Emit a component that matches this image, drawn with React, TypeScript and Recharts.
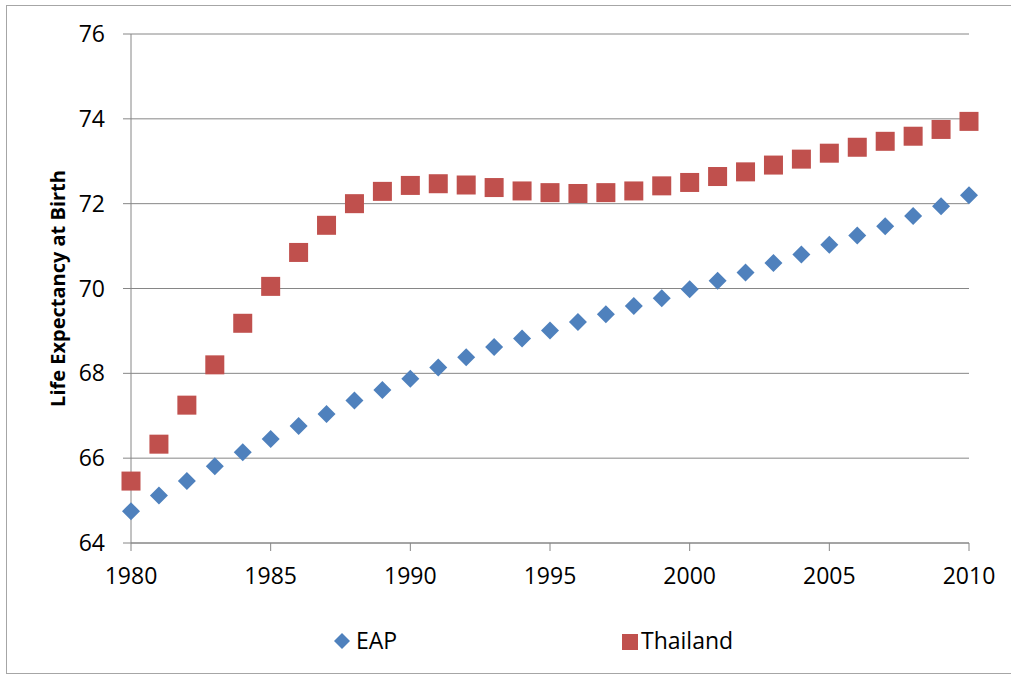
import React from 'react';
import { ScatterChart, Scatter, XAxis, YAxis, CartesianGrid, Legend } from 'recharts';

const years = [1980, 1981, 1982, 1983, 1984, 1985, 1986, 1987, 1988, 1989, 1990, 1991, 1992, 1993, 1994, 1995, 1996, 1997, 1998, 1999, 2000, 2001, 2002, 2003, 2004, 2005, 2006, 2007, 2008, 2009, 2010];
const eapValues = [64.75, 65.12, 65.46, 65.81, 66.14, 66.45, 66.76, 67.04, 67.36, 67.61, 67.87, 68.14, 68.38, 68.62, 68.82, 69.01, 69.21, 69.39, 69.59, 69.77, 69.98, 70.18, 70.38, 70.6, 70.8, 71.03, 71.25, 71.47, 71.71, 71.94, 72.2];
const thailandValues = [65.46, 66.33, 67.25, 68.2, 69.18, 70.05, 70.85, 71.49, 72.0, 72.29, 72.43, 72.47, 72.44, 72.38, 72.3, 72.26, 72.24, 72.26, 72.3, 72.42, 72.5, 72.64, 72.75, 72.91, 73.05, 73.19, 73.33, 73.47, 73.59, 73.75, 73.94];
const xTicks = [1980, 1985, 1990, 1995, 2000, 2005, 2010];
const yTicks = [64, 66, 68, 70, 72, 74, 76];
const seriesNames = ['EAP', 'Thailand'];
const yAxisTitle = 'Life Expectancy at Birth';

const BLUE = '#4F81BD';
const RED = '#C0504D';
const GRID = '#868686';
const FONT = '"Open Sans", sans-serif';

const eapData = years.map((year, i) => ({ year, value: eapValues[i] }));
const thailandData = years.map((year, i) => ({ year, value: thailandValues[i] }));

const Diamond = (props: any) => {
  const { cx, cy } = props;
  const r = 9;
  return <path d={`M${cx},${cy - r}L${cx + r},${cy}L${cx},${cy + r}L${cx - r},${cy}Z`} fill={BLUE} />;
};

const Square = (props: any) => {
  const { cx, cy } = props;
  const s = 19;
  return <rect x={cx - s / 2} y={cy - s / 2} width={s} height={s} fill={RED} />;
};

const LegendContent = () => (
  <div style={{ position: 'relative', width: 420, height: 30, fontFamily: FONT, fontSize: 23, lineHeight: '30px', color: '#000' }}>
    <svg width={18} height={18} style={{ position: 'absolute', left: 0, top: 7 }}>
      <path d="M9,1L17,9L9,17L1,9Z" fill={BLUE} />
    </svg>
    <span style={{ position: 'absolute', left: 23, top: 0 }}>{seriesNames[0]}</span>
    <svg width={16} height={16} style={{ position: 'absolute', left: 289, top: 9 }}>
      <rect x={0} y={0} width={16} height={16} fill={RED} />
    </svg>
    <span style={{ position: 'absolute', left: 308, top: 0 }}>{seriesNames[1]}</span>
  </div>
);

const YTitle = (props: any) => {
  const vb = props.viewBox || { x: 0, y: 34, width: 131, height: 509 };
  const cx = vb.x + 57;
  const cy = vb.y + vb.height / 2;
  return (
    <text
      x={cx}
      y={cy}
      transform={`rotate(-90 ${cx} ${cy})`}
      textAnchor="middle"
      dominantBaseline="central"
      fontFamily={FONT}
      fontWeight="bold"
      fontSize={20}
      fill="#000"
    >
      {yAxisTitle}
    </text>
  );
};

export default function App() {
  const tickStyle = { fill: '#000', fontSize: 23, fontFamily: FONT };
  return (
    <div style={{ position: 'absolute', left: 0, top: 0, width: 1011, height: 679, background: '#fff', overflow: 'hidden' }}>
      <div style={{ position: 'absolute', left: 6, top: 5, width: 1020, height: 669, border: '1px solid #a6a6a6', boxSizing: 'border-box' }} />
      <ScatterChart width={1011} height={679} margin={{ top: 34, right: 42, left: 0, bottom: 86 }} style={{ position: 'absolute', left: 0, top: 0 }}>
        <CartesianGrid vertical={false} stroke={GRID} strokeWidth={1} />
        <XAxis
          type="number"
          dataKey="year"
          domain={[1980, 2010]}
          ticks={xTicks}
          interval={0}
          height={50}
          tickSize={8}
          tickMargin={17}
          axisLine={{ stroke: GRID }}
          tickLine={{ stroke: GRID }}
          tick={tickStyle}
          allowDecimals={false}
        />
        <YAxis
          type="number"
          dataKey="value"
          domain={[64, 76]}
          ticks={yTicks}
          interval={0}
          width={131}
          tickSize={8}
          tickMargin={18}
          axisLine={{ stroke: GRID }}
          tickLine={{ stroke: GRID }}
          tick={tickStyle}
          label={{ content: (p: any) => <YTitle {...p} /> }}
        />
        <Legend
          layout="horizontal"
          verticalAlign="middle"
          align="center"
          content={() => <LegendContent />}
          wrapperStyle={{ position: 'absolute', left: 333, top: 625, width: 420, height: 30 }}
        />
        <Scatter name={seriesNames[0]} data={eapData} shape={Diamond} isAnimationActive={false} />
        <Scatter name={seriesNames[1]} data={thailandData} shape={Square} isAnimationActive={false} />
      </ScatterChart>
    </div>
  );
}
